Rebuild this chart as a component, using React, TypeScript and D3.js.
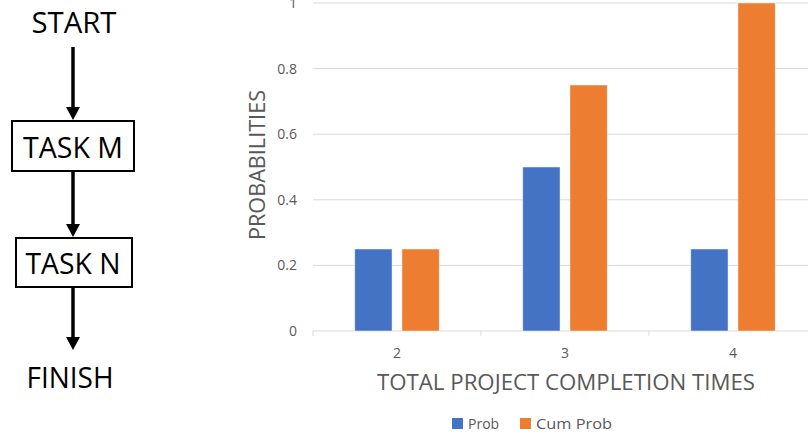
import React from "react";
import * as d3 from "d3";

const categories = ["2", "3", "4"];
const prob = [0.25, 0.5, 0.25];
const cumProb = [0.25, 0.75, 1];
const yTicks = [0, 0.2, 0.4, 0.6, 0.8, 1];
const seriesNames = ["Prob", "Cum Prob"];
const seriesColors = ["#4472C4", "#ED7D31"];
const flowSteps = ["START", "TASK M", "TASK N", "FINISH"];

const W = 808;
const H = 434;
const font = "'Open Sans', 'Liberation Sans', sans-serif";

function Arrow({ x, y1, y2 }: { x: number; y1: number; y2: number }) {
  const headH = 13;
  const headW = 7;
  return (
    <g>
      <line x1={x} x2={x} y1={y1} y2={y2 - headH + 1} stroke="#000" strokeWidth={3.5} />
      <path d={`M${x - headW},${y2 - headH} L${x + headW},${y2 - headH} L${x},${y2} Z`} fill="#000" />
    </g>
  );
}

export default function App() {
  const x0 = d3.scaleBand<string>().domain(categories).range([313, 817]).paddingInner(0).paddingOuter(0);
  const x1 = d3
    .scaleBand<string>()
    .domain(seriesNames)
    .range([0, x0.bandwidth()])
    .paddingInner(0.21)
    .paddingOuter(0.884);
  const y = d3.scaleLinear().domain([0, 1]).range([331, 3]);
  const series = [prob, cumProb];
  const boundaries = [...categories.map((c) => x0(c) as number), 817];

  return (
    <svg width={W} height={H} style={{ position: "absolute", left: 0, top: 0, background: "#fff" }}>
      <rect width={W} height={H} fill="#fff" />
      {/* Flowchart */}
      <g fontFamily={font} fill="#000">
        <text x={74} y={33} textAnchor="middle" fontSize={29} textLength={85} lengthAdjust="spacingAndGlyphs">
          {flowSteps[0]}
        </text>
        <Arrow x={73} y1={47} y2={120} />
        <rect x={12} y={121} width={122} height={50} fill="#fff" stroke="#000" strokeWidth={2} />
        <text x={73} y={158} textAnchor="middle" fontSize={30} textLength={100} lengthAdjust="spacingAndGlyphs">
          {flowSteps[1]}
        </text>
        <Arrow x={73} y1={171} y2={237} />
        <rect x={16} y={238} width={116} height={49} fill="#fff" stroke="#000" strokeWidth={2} />
        <text x={73} y={274} textAnchor="middle" fontSize={29} textLength={95} lengthAdjust="spacingAndGlyphs">
          {flowSteps[2]}
        </text>
        <Arrow x={73} y1={287} y2={350} />
        <text x={70} y={388} textAnchor="middle" fontSize={29} textLength={87} lengthAdjust="spacingAndGlyphs">
          {flowSteps[3]}
        </text>
      </g>

      {/* Chart */}
      <g fontFamily={font}>
        {yTicks.map((t) => (
          <g key={t}>
            <line x1={313} x2={817} y1={y(t)} y2={y(t)} stroke="#d9d9d9" strokeWidth={1} />
            <text x={297} y={y(t) + 5} textAnchor="end" fontSize={14} fill="#595959">
              {String(t)}
            </text>
          </g>
        ))}
        {boundaries.map((b, i) => (
          <line key={i} x1={b} x2={b} y1={y(0)} y2={y(0) + 5} stroke="#d9d9d9" strokeWidth={1} />
        ))}
        {categories.map((c, ci) => (
          <g key={c}>
            {series.map((s, si) => (
              <rect
                key={si}
                x={(x0(c) as number) + (x1(seriesNames[si]) as number)}
                y={y(s[ci])}
                width={x1.bandwidth()}
                height={y(0) - y(s[ci])}
                fill={seriesColors[si]}
                stroke="#fff"
                strokeOpacity={0.6}
                strokeWidth={0.8}
              />
            ))}
            <text
              x={(x0(c) as number) + x0.bandwidth() / 2}
              y={358}
              textAnchor="middle"
              fontSize={14}
              fill="#595959"
            >
              {c}
            </text>
          </g>
        ))}
        <text
          x={566}
          y={390}
          textAnchor="middle"
          fontSize={21}
          fill="#595959"
          textLength={378}
          lengthAdjust="spacingAndGlyphs"
        >
          TOTAL PROJECT COMPLETION TIMES
        </text>
        <text
          transform={`translate(265,165) rotate(-90)`}
          textAnchor="middle"
          fontSize={21}
          fill="#595959"
          textLength={150}
          lengthAdjust="spacingAndGlyphs"
        >
          PROBABILITIES
        </text>
        {/* Legend */}
        <rect x={452} y={418} width={11} height={11} fill={seriesColors[0]} />
        <text x={468} y={429} fontSize={14} fill="#595959">
          {seriesNames[0]}
        </text>
        <rect x={520} y={418} width={11} height={11} fill={seriesColors[1]} />
        <text x={536} y={429} fontSize={14} fill="#595959" textLength={76} lengthAdjust="spacingAndGlyphs">
          {seriesNames[1]}
        </text>
      </g>
    </svg>
  );
}
